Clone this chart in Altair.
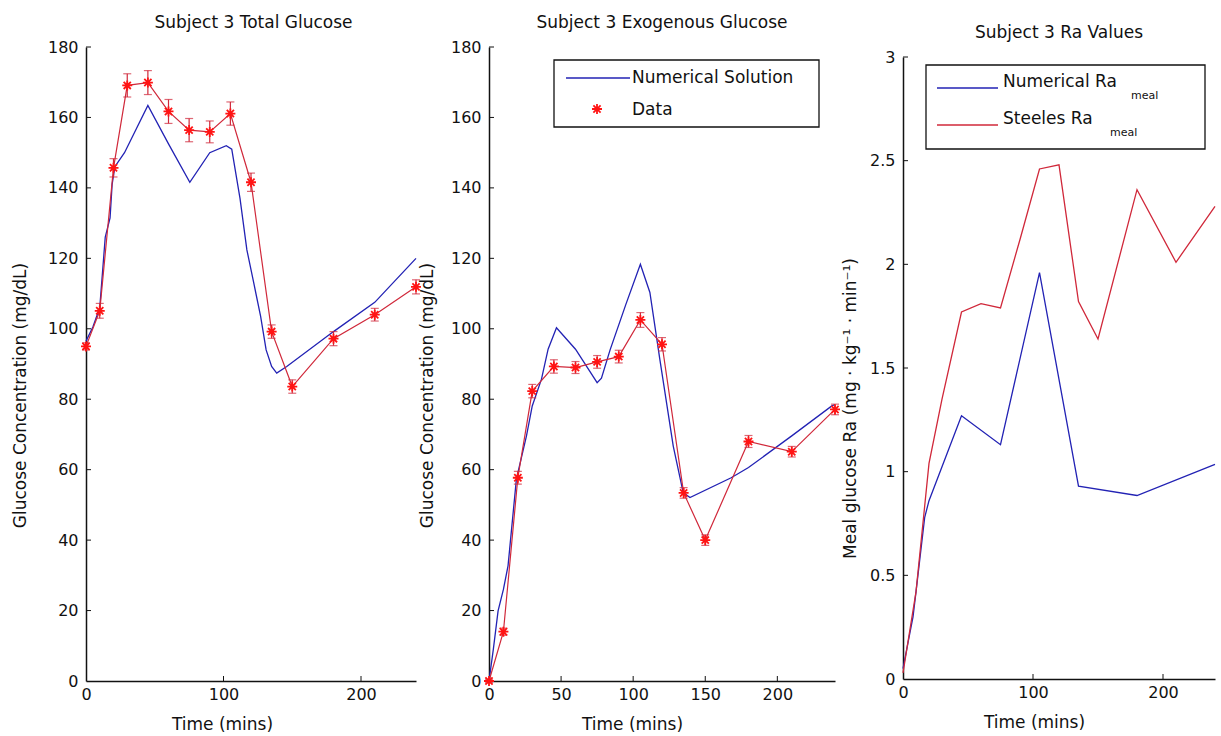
import altair as alt
import pandas as pd

# ---------------------------------------------------------------- data
sample_t = [0, 10, 20, 30, 45, 60, 75, 90, 105, 120, 135, 150, 180, 210, 240]

# total plasma glucose (mg/dL): measured mean, error, and model trace
total_obs = [95.0, 105.1, 145.7, 169.1, 169.9, 161.7, 156.4, 155.9, 161.1,
             141.6, 99.2, 83.6, 97.2, 104.0, 111.9]
total_err = [1.0, 2.1, 2.6, 3.3, 3.4, 3.4, 3.3, 3.1, 3.3, 2.6, 1.9, 1.9, 2.0, 1.8, 2.0]
total_model_t = [0, 5, 10, 14, 17.5, 19, 21, 28, 45, 60, 75.5, 90, 102, 106, 112,
                 117, 122, 127, 131, 135, 138.7, 146, 180, 210, 240]
total_model = [96.5, 100.5, 106, 126, 131.5, 141, 146, 150, 163.4, 152.5, 141.6,
               150, 152, 151, 137, 122.4, 113, 103.5, 94, 89.3, 87.4, 89.3, 99.2,
               107.5, 120]

# exogenous (meal-derived) glucose (mg/dL)
exo_obs = [0, 14, 57.7, 82.3, 89.3, 89.0, 90.6, 92.1, 102.5, 95.6, 53.4, 40.0,
           68.0, 65.1, 77.1]
exo_err = [0.5, 1.0, 1.8, 1.9, 1.9, 1.7, 1.8, 1.8, 2.1, 1.9, 1.5, 1.5, 1.7, 1.5, 1.5]
exo_model_t = [0, 3, 6.3, 10, 13.2, 19, 26, 30, 36.4, 41, 46.8, 60, 75, 78, 84, 95,
               105, 111.6, 118.5, 127.8, 134.7, 139.4, 168, 180, 210, 237.8, 240]
exo_model = [0, 9, 19.9, 26, 32.7, 57.3, 69.6, 78.1, 85.7, 94.2, 100.3, 94.2, 84.7,
             86, 94, 107, 118.3, 110.3, 91.3, 66.7, 53.5, 52.1, 57.7, 60.6, 69.6,
             78.1, 78.5]

# rate of appearance of meal glucose (mg/kg/min)
ra_steele = [0.03, 0.42, 1.04, 1.35, 1.77, 1.81, 1.79, 2.12, 2.46, 2.48, 1.82,
             1.64, 2.36, 2.01, 2.28]
ra_model_t = [0, 4, 7.7, 10, 16.7, 20, 45, 75, 105, 135, 180, 240]
ra_model = [0.05, 0.18, 0.30, 0.42, 0.78, 0.86, 1.27, 1.13, 1.96, 0.93, 0.885, 1.035]

glucose_ticks = [0, 20, 40, 60, 80, 100, 120, 140, 160, 180]
ra_ticks = [0, 0.5, 1, 1.5, 2, 2.5, 3]

# ---------------------------------------------------------------- style
FONT = "DejaVu Sans"
INK = "#111111"
BLUE = "#2222b4"
RED_LINE = "#d0283a"
RED_MARK = "#ff1414"
ASTERISK = "M0,-1L0,1M-1,0L1,0M-0.72,-0.72L0.72,0.72M-0.72,0.72L0.72,-0.72"
TICK_LEN = 5

dummy = pd.DataFrame({"k": [0]})


def series(ts, vs):
    return pd.DataFrame({"t": ts, "v": vs})


def panel(width, height, xrange, yrange, ydomain, yticks, xticks, ytitle, ytitle_y,
          ytitle_pad, xtitle_x, title, layers_fn, yformat=None):
    xscale = alt.Scale(domain=[0, 240], range=xrange, nice=False, zero=False)
    yscale = alt.Scale(domain=ydomain, range=yrange, nice=False, zero=False)
    yaxis_kw = dict(values=yticks, title=ytitle, titleY=ytitle_y,
                    titlePadding=ytitle_pad, labelFlush=False)
    if yformat:
        yaxis_kw["format"] = yformat
    xenc = alt.X("t:Q", scale=xscale,
                 axis=alt.Axis(values=xticks, title="Time (mins)", titleX=xtitle_x,
                               labelFlush=False))
    yenc = alt.Y("v:Q", scale=yscale, axis=alt.Axis(**yaxis_kw))

    # inward tick marks on both axes
    yt = (alt.Chart(pd.DataFrame({"v": yticks[1:]}))
          .mark_rule(color=INK, strokeWidth=1)
          .encode(y="v:Q", x=alt.value(0), x2=alt.value(TICK_LEN)))
    xt = (alt.Chart(pd.DataFrame({"t": xticks[1:]}))
          .mark_rule(color=INK, strokeWidth=1)
          .encode(x="t:Q", y=alt.value(height), y2=alt.value(height - TICK_LEN)))

    layers = layers_fn(xenc, yenc)
    return alt.layer(*layers, yt, xt).properties(width=width, height=height, title=title)


def glucose_layers(model_t, model_v, obs, err):
    def build(xenc, yenc):
        model = (alt.Chart(series(model_t, model_v))
                 .mark_line(color=BLUE, strokeWidth=1.3)
                 .encode(x=xenc, y=yenc))
        df = pd.DataFrame({"t": sample_t, "v": obs,
                           "lo": [o - e for o, e in zip(obs, err)],
                           "hi": [o + e for o, e in zip(obs, err)]})
        base = alt.Chart(df)
        data_line = base.mark_line(color=RED_LINE, strokeWidth=1.2).encode(x="t:Q", y="v:Q")
        bars = base.mark_rule(color=RED_LINE, strokeWidth=1.2).encode(
            x="t:Q", y="lo:Q", y2="hi:Q")
        cap_lo = base.mark_tick(color=RED_LINE, orient="horizontal", size=8,
                                thickness=1.2).encode(x="t:Q", y="lo:Q")
        cap_hi = base.mark_tick(color=RED_LINE, orient="horizontal", size=8,
                                thickness=1.2).encode(x="t:Q", y="hi:Q")
        stars = base.mark_point(shape=ASTERISK, size=100, stroke=RED_MARK,
                                strokeWidth=1.8, filled=False, opacity=1).encode(
            x="t:Q", y="v:Q")
        return [model, data_line, bars, cap_lo, cap_hi, stars]
    return build


# ---------------------------------------------------------------- legends
def legend_exo():
    d = alt.Chart(dummy)
    box = d.mark_rect(fill="white", stroke=INK, strokeWidth=1.3).encode(
        x=alt.value(65), x2=alt.value(330), y=alt.value(13), y2=alt.value(80))
    swatch = d.mark_rule(color=BLUE, strokeWidth=1.5).encode(
        x=alt.value(77), x2=alt.value(141), y=alt.value(31))
    lab1 = d.mark_text(font=FONT, fontSize=17, align="left", baseline="middle",
                       color=INK).encode(x=alt.value(143), y=alt.value(31),
                                         text=alt.value("Numerical Solution"))
    star = d.mark_point(shape=ASTERISK, size=100, stroke=RED_MARK, strokeWidth=1.8,
                        filled=False, opacity=1).encode(x=alt.value(108), y=alt.value(62))
    lab2 = d.mark_text(font=FONT, fontSize=17, align="left", baseline="middle",
                       color=INK).encode(x=alt.value(143), y=alt.value(63),
                                         text=alt.value("Data"))
    return [box, swatch, lab1, star, lab2]


def legend_ra(top):
    d = alt.Chart(dummy)
    box = d.mark_rect(fill="white", stroke=INK, strokeWidth=1.3).encode(
        x=alt.value(23), x2=alt.value(302), y=alt.value(top + 8), y2=alt.value(top + 92))
    out = [box]
    for ypos, color, name, sub_x in [(top + 31, BLUE, "Numerical Ra", 228),
                                     (top + 68, RED_LINE, "Steeles Ra", 207)]:
        out.append(d.mark_rule(color=color, strokeWidth=1.5).encode(
            x=alt.value(34), x2=alt.value(95), y=alt.value(ypos)))
        out.append(d.mark_text(font=FONT, fontSize=17, align="left", baseline="middle",
                               color=INK).encode(x=alt.value(100), y=alt.value(ypos - 6),
                                                 text=alt.value(name)))
        out.append(d.mark_text(font=FONT, fontSize=11, align="left", baseline="middle",
                               color=INK).encode(x=alt.value(sub_x), y=alt.value(ypos + 8),
                                                 text=alt.value("meal")))
    return out


# ---------------------------------------------------------------- panels
p1 = panel(335, 634, [0, 330], [634, 0], [0, 180], glucose_ticks, [0, 100, 200],
           "Glucose Concentration (mg/dL)", 348, 18, 136, "Subject 3 Total Glucose",
           glucose_layers(total_model_t, total_model, total_obs, total_err))


def exo_build(xenc, yenc):
    return glucose_layers(exo_model_t, exo_model, exo_obs, exo_err)(xenc, yenc) + legend_exo()


p2 = panel(346, 634, [0, 346], [634, 0], [0, 180], glucose_ticks, [0, 50, 100, 150, 200],
           "Glucose Concentration (mg/dL)", 348, 14, 143, "Subject 3 Exogenous Glucose",
           exo_build)

RA_TOP = 10


def ra_build(xenc, yenc):
    model = (alt.Chart(series(ra_model_t, ra_model))
             .mark_line(color=BLUE, strokeWidth=1.3).encode(x=xenc, y=yenc))
    steele = (alt.Chart(series(sample_t, ra_steele))
              .mark_line(color=RED_LINE, strokeWidth=1.3).encode(x="t:Q", y="v:Q"))
    return [model, steele] + legend_ra(RA_TOP)


p3 = panel(312, 632, [0, 312], [632, RA_TOP], [0, 3], ra_ticks, [0, 100, 200],
           "Meal glucose Ra (mg · kg⁻¹ · min⁻¹)", 361, 10, 131,
           alt.TitleParams("Subject 3 Ra Values", dy=2), ra_build, yformat="~g")

chart = (alt.hconcat(p1, p2, p3, spacing=68, bounds="flush")
         .properties(padding={"left": 11, "top": 14, "right": 2, "bottom": 1})
         .configure_view(stroke=None)
         .configure_axis(grid=False, ticks=False, domainColor=INK, domainWidth=1.5,
                         labelFont=FONT, labelFontSize=16, labelColor=INK,
                         labelPadding=8, titleFont=FONT, titleFontSize=17,
                         titleFontWeight="normal", titleColor=INK)
         .configure_axisX(labelPadding=5, titlePadding=14)
         .configure_title(font=FONT, fontSize=17, fontWeight="normal", color=INK,
                          offset=7))

chart.save("out.html", embed_options={"renderer": "svg", "actions": False})
